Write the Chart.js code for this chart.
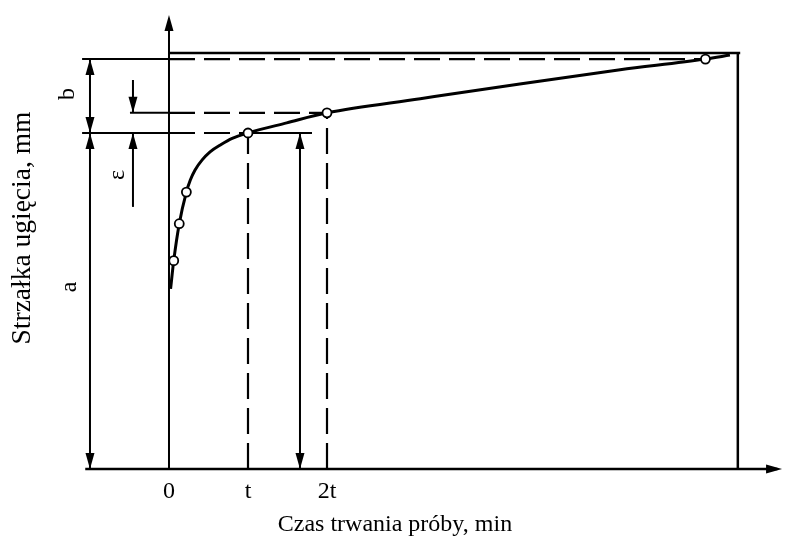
<!DOCTYPE html>
<html lang="pl">
<head>
<meta charset="utf-8">
<title>Strzałka ugięcia</title>
<script src="https://cdn.jsdelivr.net/npm/chart.js@4.4.1/dist/chart.umd.min.js"></script>
<style>
    html, body { margin: 0; padding: 0; background: #fff; }
    #wrap { width: 788px; height: 538px; }
</style>
</head>
<body>
<div id="wrap"><canvas id="deflectionChart" width="788" height="538"></canvas></div>
<script>
// Datos (t = 1 unidad de tiempo, a = 5 unidades de flecha)
const curveTime = [0.02, 0.06, 0.13, 0.22, 0.27, 0.33, 0.42, 0.52, 0.66, 0.80, 1.0, 1.49, 2.0, 3.18, 4.44, 5.71, 6.79, 7.10];
const curveDeflection = [2.68, 3.10, 3.65, 4.12, 4.30, 4.45, 4.60, 4.72, 4.83, 4.92, 5.0, 5.15, 5.30, 5.51, 5.73, 5.94, 6.10, 6.16];
const measuredIndex = [1, 2, 3, 10, 12, 16];

// Etiquetas del eje de tiempo
const tickValues = [0, 1, 2];
const tickLabels = ['0', 't', '2t'];

// Niveles característicos: flecha en t, en 2t, final y el marco
const deflAtT = 5.0;
const deflAt2T = 5.30;
const deflFinal = 6.10;
const timeFinal = 6.79;
const frameTop = 6.19;
const frameRight = 7.2;

// Posiciones auxiliares (cotas a la izquierda del eje)
const dimX = -1.0;
const epsX = -0.456;
const rightDimX = 1.658;
const leftStart = -1.10;

const INK = '#000';
const FONT = '"Liberation Serif", "Times New Roman", serif';

/**
 * Crea un segmento (línea sin puntos) como dataset scatter.
 */
function seg(x1, y1, x2, y2, width, dash) {
    return {
        data: [{ x: x1, y: y1 }, { x: x2, y: y2 }],
        showLine: true,
        borderColor: INK,
        borderWidth: width,
        borderDash: dash || [],
        pointRadius: 0,
        pointHoverRadius: 0,
        borderCapStyle: 'butt',
    };
}

const DASH = [26, 9];

// Curva principal (va primero para quedar encima)
const curveDataset = {
    data: curveTime.map((x, i) => ({ x, y: curveDeflection[i] })),
    showLine: true,
    borderColor: INK,
    borderWidth: 3,
    cubicInterpolationMode: 'monotone',
    pointRadius: curveTime.map((_, i) => measuredIndex.includes(i) ? 4.5 : 0),
    pointBackgroundColor: '#fff',
    pointBorderColor: INK,
    pointBorderWidth: 1.8,
    pointHoverRadius: 0,
};

const guideDatasets = [
    // ejes
    seg(leftStart + 0.04, 0, 7.70, 0, 2.6),
    seg(0, 0, 0, 6.70, 2),
    // marco superior y derecho
    seg(0, frameTop, frameRight + 0.03, frameTop, 2.5),
    seg(frameRight, 0, frameRight, frameTop, 2.5),
    // nivel final
    seg(leftStart, deflFinal, 0, deflFinal, 2),
    seg(0, deflFinal, timeFinal, deflFinal, 2.2, DASH),
    // nivel en t
    seg(leftStart, deflAtT, 0, deflAtT, 2),
    seg(0, deflAtT, 1, deflAtT, 2.2, DASH),
    seg(1, deflAtT, 1.81, deflAtT, 2),
    // nivel en 2t
    seg(-0.494, deflAt2T, 0, deflAt2T, 2),
    seg(0, deflAt2T, 2, deflAt2T, 2.2, DASH),
    // verticales discontinuas
    seg(1, 0, 1, deflAtT, 2.2, DASH),
    seg(2, 0, 2, deflAt2T, 2.2, DASH),
    // cotas a y b
    seg(dimX, 0, dimX, deflFinal, 2),
    // cota epsilon
    seg(epsX, 5.79, epsX, deflAt2T, 2),
    seg(epsX, 3.90, epsX, deflAtT, 2),
    // cota derecha
    seg(rightDimX, 0, rightDimX, deflAtT, 2),
];

// Puntas de flecha: {x, y, dir}
const arrowHeads = [
    { x: 0, y: 6.756, dir: 'up' },
    { x: 7.76, y: 0, dir: 'right' },
    { x: dimX, y: deflFinal, dir: 'up' },
    { x: dimX, y: deflAtT, dir: 'down' },
    { x: dimX, y: deflAtT, dir: 'up' },
    { x: dimX, y: 0, dir: 'down' },
    { x: epsX, y: deflAt2T, dir: 'down' },
    { x: epsX, y: deflAtT, dir: 'up' },
    { x: rightDimX, y: deflAtT, dir: 'up' },
    { x: rightDimX, y: 0, dir: 'down' },
];

// Plugin que dibuja flechas y textos usando las escalas del gráfico
const annotationsPlugin = {
    id: 'annotations',
    afterDatasetsDraw(chart) {
        const ctx = chart.ctx;
        const xs = chart.scales.x, ys = chart.scales.y;
        ctx.save();
        ctx.fillStyle = INK;
        arrowHeads.forEach(a => {
            const px = xs.getPixelForValue(a.x);
            const py = ys.getPixelForValue(a.y);
            const len = 16, half = 4.5;
            ctx.beginPath();
            if (a.dir === 'up') {
                ctx.moveTo(px, py);
                ctx.lineTo(px - half, py + len);
                ctx.lineTo(px + half, py + len);
            } else if (a.dir === 'down') {
                ctx.moveTo(px, py);
                ctx.lineTo(px - half, py - len);
                ctx.lineTo(px + half, py - len);
            } else {
                ctx.moveTo(px, py);
                ctx.lineTo(px - len, py - half);
                ctx.lineTo(px - len, py + half);
            }
            ctx.closePath();
            ctx.fill();
        });

        // etiquetas del eje de tiempo
        ctx.font = '24px ' + FONT;
        ctx.textAlign = 'center';
        ctx.textBaseline = 'middle';
        const axisY = ys.getPixelForValue(0);
        tickValues.forEach((v, i) => {
            ctx.fillText(tickLabels[i], xs.getPixelForValue(v), axisY + 23);
        });

        // título del eje X
        ctx.fillText('Czas trwania próby, min', xs.getPixelForValue(2.86), ys.getPixelForValue(-0.83));

        // textos girados
        const rotated = (text, x, y, size) => {
            ctx.save();
            ctx.translate(xs.getPixelForValue(x), ys.getPixelForValue(y));
            ctx.rotate(-Math.PI / 2);
            ctx.font = size + 'px ' + FONT;
            ctx.fillText(text, 0, 0);
            ctx.restore();
        };
        rotated('Strzałka ugięcia, mm', -1.848, 3.586, 27.5);
        rotated('b', -1.278, 5.58, 24);
        rotated('a', -1.253, 2.71, 24);
        rotated('ε', -0.646, 4.375, 24);
        ctx.restore();
    }
};

const chartCtx = document.getElementById('deflectionChart').getContext('2d');
const deflectionChart = new Chart(chartCtx, {
    type: 'scatter',
    data: { datasets: [curveDataset, ...guideDatasets] },
    options: {
        responsive: false,
        animation: false,
        events: [],
        layout: { padding: 0 },
        scales: {
            x: { type: 'linear', display: false, min: -2.139, max: 7.835 },
            y: { type: 'linear', display: false, min: -1.027, max: 6.979 },
        },
        plugins: {
            legend: { display: false },
            tooltip: { enabled: false },
        },
    },
    plugins: [annotationsPlugin],
});
</script>
</body>
</html>
